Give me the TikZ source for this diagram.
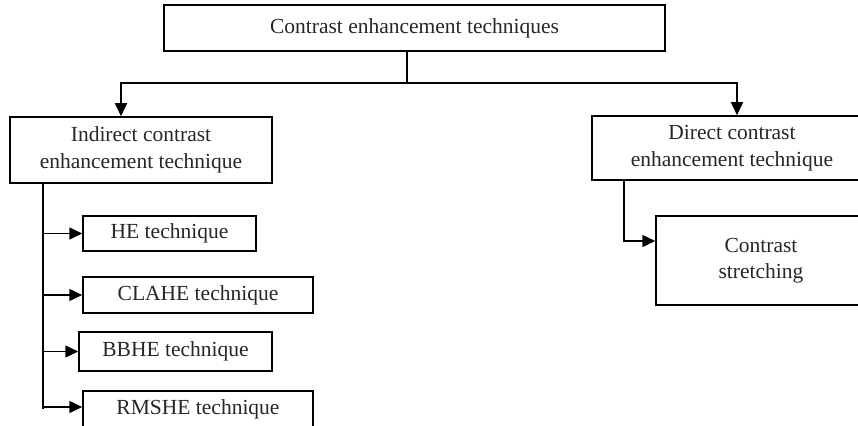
\documentclass[tikz,border=0pt]{standalone}
\usepackage{fontspec}
\setmainfont{Liberation Serif}
\usetikzlibrary{arrows.meta}
\begin{document}
\begin{tikzpicture}[x=1pt,y=-1pt,
  box/.style={draw=black, line width=1.5pt, inner sep=0pt, align=center,
    font=\fontsize{21.5}{26.5}\selectfont, text=black!85},
  conn/.style={draw=black, line width=1.5pt},
  arr/.style={conn, -{Triangle[length=13pt,width=12pt]}}]
\useasboundingbox (0,0) rectangle (858,425);
\node[box, minimum width=501pt, minimum height=46pt] (top) at (414.5,28) {Contrast enhancement techniques};
\node[box, minimum width=262pt, minimum height=66pt] (ind) at (141,150) {Indirect contrast\\enhancement technique};
\node[box, minimum width=280pt, minimum height=64pt] (dir) at (732,148) {Direct contrast\\enhancement technique};
\node[box, minimum width=173pt, minimum height=35pt] (he) at (169.5,233.5) {HE technique};
\node[box, minimum width=230pt, minimum height=36pt] (cl) at (198,295) {CLAHE technique};
\node[box, minimum width=193pt, minimum height=39pt] (bb) at (175.5,351.5) {BBHE technique};
\node[box, minimum width=230pt, minimum height=36pt] (rm) at (198,409) {RMSHE technique};
\node[box, minimum width=210pt, minimum height=89pt] (cs) at (761,260.5) {Contrast\\stretching};
% top junction
\coordinate (j) at (407,83);
\draw[conn] (top.south -| j) -- (j);
\draw[arr] (j) -| ([xshift=-20pt]ind.north);
\draw[arr] (j) -| ([xshift=5pt]dir.north);
% left bus
\coordinate (bus) at (43,183);
\draw[conn] (ind.south -| bus) -- (bus |- rm.west);
\draw[arr] (bus |- he.west) -- (he.west);
\draw[arr] (bus |- cl.west) -- (cl.west);
\draw[arr] (bus |- bb.west) -- (bb.west);
\draw[arr] ([yshift=2pt]bus |- rm.west) -- ([yshift=2pt]rm.west);
% right branch
\coordinate (rb) at (624,180);
\draw[arr] (dir.south -| rb) |- ([yshift=19.5pt]cs.west);
\end{tikzpicture}
\end{document}
